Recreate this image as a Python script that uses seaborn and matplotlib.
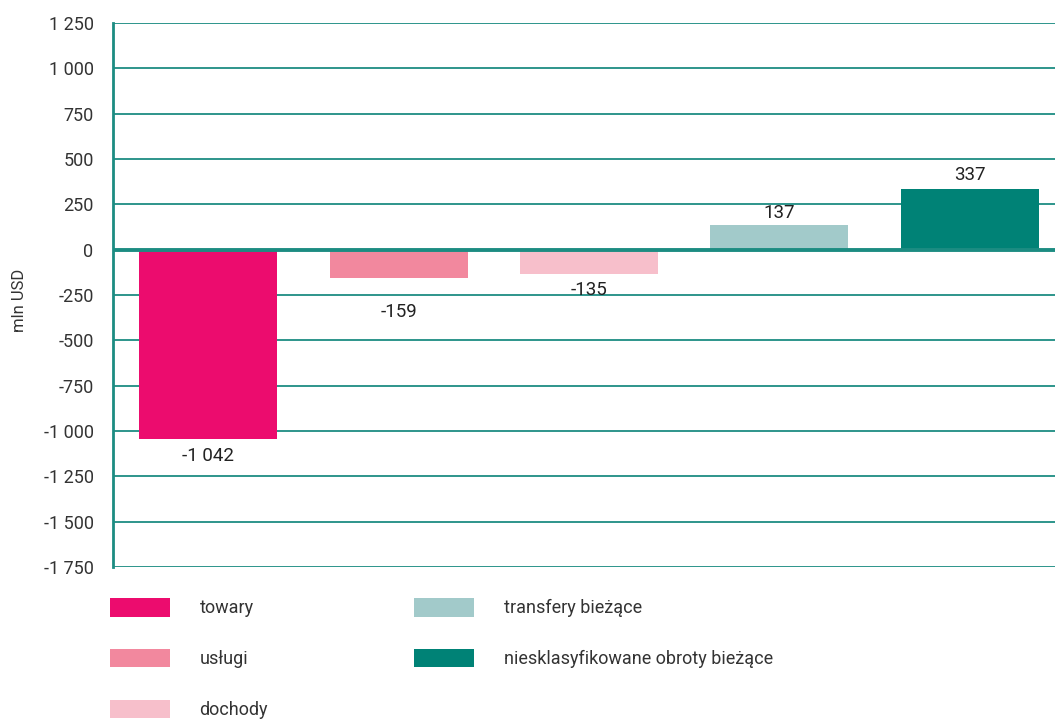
import numpy as np
import pandas as pd
from matplotlib import use
use('agg')
import matplotlib.pyplot as plt
from matplotlib.patches import Patch
from matplotlib.ticker import FuncFormatter
import seaborn as sns

categories = ["towary", "usługi", "dochody", "transfery bieżące",
              "niesklasyfikowane obroty bieżące"]
values = [-1042, -159, -135, 137, 337]
colors = ["#EC0C6E", "#F2889E", "#F7BFCB", "#A2CACA", "#008276"]
yticks = [-1750, -1500, -1250, -1000, -750, -500, -250, 0, 250, 500, 750, 1000, 1250]

sns.set_style("white")
plt.rcParams['font.family'] = ['Roboto', 'DejaVu Sans']
teal = "#1C8C82"

def fmt(v):
    return f"{int(v):,}".replace(",", " ")

df = pd.DataFrame({"kat": categories, "val": values})

fig = plt.figure(figsize=(10.55, 7.2), dpi=100)
ax = fig.add_axes([113/1055, 153/720, 952/1055, 544/720])
sns.barplot(data=df, x="kat", y="val", hue="kat", palette=colors,
            width=0.724, legend=False, ax=ax, saturation=1, linewidth=0)

ax.set_ylim(-1750, 1250)
ax.set_xlim(-0.5, 4.5)
ax.set_yticks(yticks)
ax.yaxis.set_major_formatter(FuncFormatter(lambda v, p: fmt(v)))
ax.tick_params(axis='y', length=0, pad=14, labelsize=13, labelcolor="#333333")
ax.set_xticks([])
ax.set_xlabel("")
ax.set_ylabel("mln USD", fontsize=12, color="#333333")
ax.yaxis.set_label_coords(-86/952, 0.49)
for y in yticks:
    if y != 0:
        ax.axhline(y, color=teal, lw=1.3, zorder=0)
ax.axhline(0, color=teal, lw=2.8, zorder=3)
for s in ["top", "right", "bottom"]:
    ax.spines[s].set_visible(False)
ax.spines["left"].set_color(teal)
ax.spines["left"].set_linewidth(2)

# label offsets as in the source chart (usługi label sits lower)
pads = [6, 18, 5, 2, 3]
for bar, v, pd_ in zip(ax.patches, values, pads):
    ax.bar_label(ax.containers[categories.index(categories[ax.patches.index(bar)])],
                 labels=[fmt(v)], padding=pd_, fontsize=13.5, color="#222222")

handles = [Patch(facecolor=c, edgecolor="none") for c in colors]
fig.legend(handles, categories, loc="upper left", bbox_to_anchor=(110/1055, 1 - 598/720),
           ncol=2, frameon=False, fontsize=13, handlelength=3.3, handleheight=1.2,
           handletextpad=1.65, labelspacing=1.75, columnspacing=8.1,
           labelcolor="#333333", borderaxespad=0, borderpad=0)

fig.savefig("out.png", dpi=100)
